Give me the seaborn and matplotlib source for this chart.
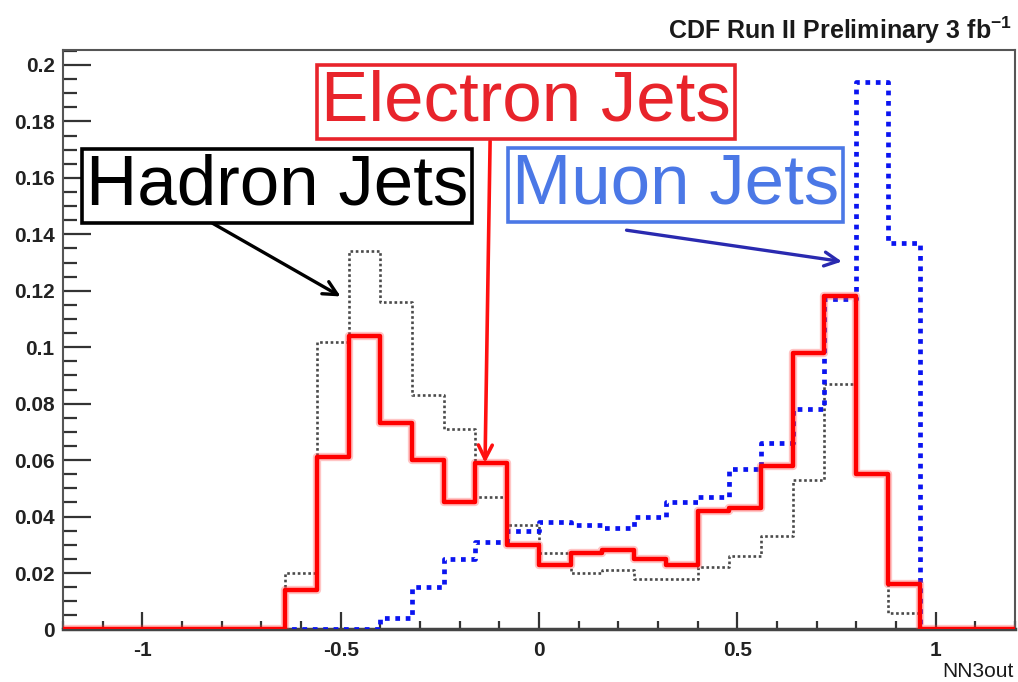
import numpy as np
import pandas as pd
import matplotlib
matplotlib.use("Agg")
import matplotlib.pyplot as plt
from matplotlib.ticker import MultipleLocator, FixedLocator, FixedFormatter
import seaborn as sns

# NN3out distributions, 30 bins from -1.2 to 1.2 (bin width 0.08)
bin_range = (-1.2, 1.2)
bin_width = 0.08
electron_jets = [0, 0, 0, 0, 0, 0, 0,
                 0.014, 0.061, 0.104, 0.073, 0.060, 0.045, 0.059, 0.030, 0.023, 0.027,
                 0.028, 0.025, 0.023, 0.042, 0.043, 0.058, 0.098, 0.118, 0.055, 0.016,
                 0, 0, 0]
hadron_jets = [0, 0, 0, 0, 0, 0, 0,
               0.020, 0.102, 0.134, 0.116, 0.083, 0.071, 0.047, 0.037, 0.027, 0.020,
               0.021, 0.018, 0.018, 0.022, 0.026, 0.033, 0.053, 0.087, 0.055, 0.006,
               0, 0, 0]
muon_jets = [0, 0, 0, 0, 0, 0, 0,
             0, 0, 0, 0.004, 0.015, 0.025, 0.031, 0.035, 0.038, 0.037,
             0.036, 0.040, 0.045, 0.047, 0.057, 0.066, 0.078, 0.117, 0.194, 0.137,
             0, 0, 0]

xtick_values = [-1, -0.5, 0, 0.5, 1]
xtick_labels = ["-1", "-0.5", "0", "0.5", "1"]
ytick_values = [0, 0.02, 0.04, 0.06, 0.08, 0.1, 0.12, 0.14, 0.16, 0.18, 0.2]
ytick_labels = ["0", "0.02", "0.04", "0.06", "0.08", "0.1", "0.12", "0.14", "0.16", "0.18", "0.2"]

title_text = "CDF Run II Preliminary 3 fb$^{-1}$"
axis_label = "NN3out"

sns.set_style("ticks")
plt.rcParams["font.family"] = ["Liberation Sans", "DejaVu Sans"]
plt.rcParams["mathtext.default"] = "regular"

n_bins = len(electron_jets)
centers = bin_range[0] + bin_width * (np.arange(n_bins) + 0.5)
df = pd.DataFrame({
    "nn": np.tile(centers, 3),
    "w": np.concatenate([hadron_jets, muon_jets, electron_jets]),
    "sample": ["hadron"] * n_bins + ["muon"] * n_bins + ["electron"] * n_bins,
})

fig = plt.figure(figsize=(10.18, 6.82), dpi=100)
ax = fig.add_axes([0.0619, 0.077, 0.935, 0.8497])

common = dict(x="nn", weights="w", binwidth=bin_width, binrange=bin_range,
              element="step", fill=False, ax=ax)
sns.histplot(data=df[df["sample"] == "hadron"], color="#4a4a4a", linewidth=1.9,
             linestyle=(0, (1, 1)), zorder=2, **common)
sns.histplot(data=df[df["sample"] == "muon"], color="#0a14f0", linewidth=3.4,
             linestyle=(0, (1, 1.2)), zorder=3, **common)
# soft halo under the electron histogram
sns.histplot(data=df[df["sample"] == "electron"], color="#ff4040", linewidth=6.0,
             alpha=0.3, zorder=4, **common)
sns.histplot(data=df[df["sample"] == "electron"], color="#ff0000", linewidth=3.2,
             zorder=5, **common)

ax.set_xlim(-1.2, 1.2)
ax.set_ylim(0, 0.2053)
ax.set_xlabel("")
ax.set_ylabel("")

ax.xaxis.set_major_locator(FixedLocator(xtick_values))
ax.xaxis.set_major_formatter(FixedFormatter(xtick_labels))
ax.xaxis.set_minor_locator(MultipleLocator(0.1))
ax.yaxis.set_major_locator(FixedLocator(ytick_values))
ax.yaxis.set_major_formatter(FixedFormatter(ytick_labels))
ax.yaxis.set_minor_locator(MultipleLocator(0.005))

ax.tick_params(axis="both", which="both", direction="in", color="#333333", width=1.6)
ax.tick_params(axis="x", which="major", length=12, pad=8)
ax.tick_params(axis="x", which="minor", length=6)
ax.tick_params(axis="y", which="major", length=20, pad=6)
ax.tick_params(axis="y", which="minor", length=10)
for lab in ax.get_xticklabels() + ax.get_yticklabels():
    lab.set_fontweight("bold")
    lab.set_fontsize(15)
    lab.set_color("#222222")
for side in ["left", "right", "top"]:
    ax.spines[side].set_color("#555555")
    ax.spines[side].set_linewidth(1.5)
ax.spines["bottom"].set_color("#444444")
ax.spines["bottom"].set_linewidth(2.5)

fig.text(0.994, 0.956, title_text, ha="right", va="center", fontsize=18,
         fontweight="bold", color="#1a1a1a")
fig.text(0.996, 0.002, axis_label, ha="right", va="bottom", fontsize=15,
         color="#1a1a1a")

# labelled boxes with arrows pointing to each sample
ax.annotate("", xy=(-0.136, 0.058), xytext=(-0.123, 0.174),
            arrowprops=dict(arrowstyle="->,head_length=1.0,head_width=0.5",
                            color="#ff1010", lw=2.6), zorder=6)
ax.annotate("", xy=(-0.494, 0.1175), xytext=(-0.829, 0.1444),
            arrowprops=dict(arrowstyle="->,head_length=1.0,head_width=0.5",
                            color="black", lw=2.4), zorder=6)
ax.annotate("", xy=(0.771, 0.1302), xytext=(0.214, 0.1416),
            arrowprops=dict(arrowstyle="->,head_length=1.0,head_width=0.5",
                            color="#2a2ab0", lw=2.4), zorder=6)

box_font = 51
ax.text(0.4863, 0.910, "Electron Jets", transform=ax.transAxes, ha="center",
        va="center", fontsize=box_font, color="#e8242b", zorder=7,
        bbox=dict(boxstyle="square,pad=0.06", fc="white", ec="#e8242b", lw=2.6))
ax.text(0.2248, 0.765, "Hadron Jets", transform=ax.transAxes, ha="center",
        va="center", fontsize=box_font, color="black", zorder=7,
        bbox=dict(boxstyle="square,pad=0.06", fc="white", ec="black", lw=2.6))
ax.text(0.6434, 0.767, "Muon Jets", transform=ax.transAxes, ha="center",
        va="center", fontsize=box_font, color="#4b78e6", zorder=7,
        bbox=dict(boxstyle="square,pad=0.06", fc="white", ec="#4b78e6", lw=2.6))

fig.savefig("out.png", dpi=100)
